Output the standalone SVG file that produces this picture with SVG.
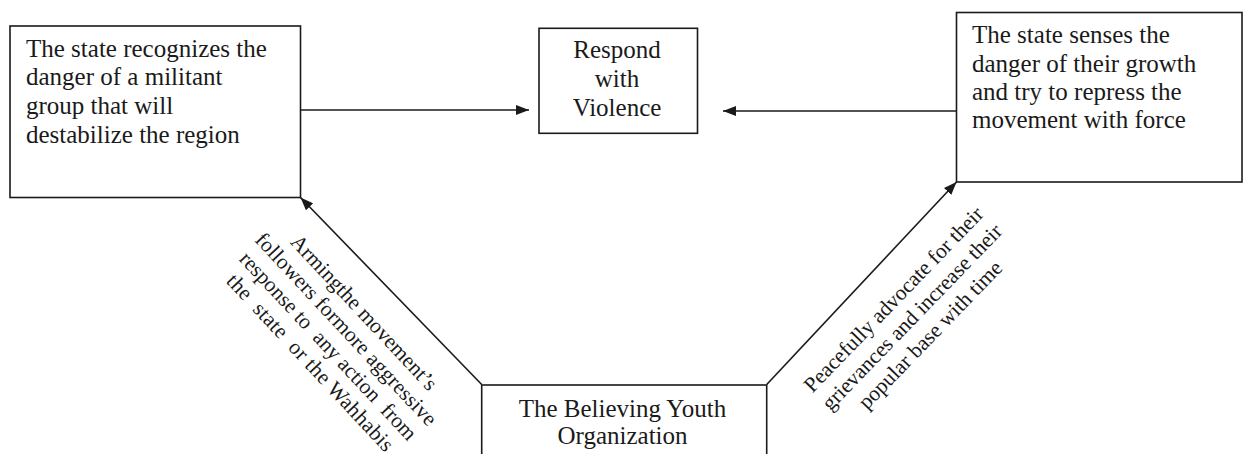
<svg xmlns="http://www.w3.org/2000/svg" width="1243" height="454" viewBox="0 0 1243 454">
<style>
.box{fill:#fff;stroke:#1a1a1a;stroke-width:1.6}
.t{font-family:"Liberation Serif","Times New Roman",serif;font-size:25px;fill:#1a1a1a}
.d{font-family:"Liberation Serif","Times New Roman",serif;font-size:21.5px;fill:#1a1a1a;text-anchor:middle}
.c{text-anchor:middle}
.ln{stroke:#1a1a1a;stroke-width:1.6;fill:none;marker-end:url(#ah)}
</style>
<defs>
<marker id="ah" markerUnits="userSpaceOnUse" markerWidth="14" markerHeight="10" refX="13" refY="5" orient="auto">
<path d="M0,0 L13,5 L0,10 z" fill="#1a1a1a"/>
</marker>
</defs>
<rect width="1243" height="454" fill="#fff"/>
<g id="connectors">
<line class="ln" x1="300.5" y1="110" x2="529" y2="110"/>
<line class="ln" x1="956.5" y1="111" x2="723" y2="111"/>
<line class="ln" x1="481.7" y1="384.5" x2="300.5" y2="197.5"/>
<line class="ln" x1="766.7" y1="384.5" x2="956.5" y2="182"/>
<text class="d" transform="translate(341,334) rotate(47)" xml:space="preserve"><tspan x="0" y="-24.5">Armingthe movement’s</tspan><tspan x="0" y="0" textLength="255" lengthAdjust="spacing">followers formore aggressive</tspan><tspan x="0" y="24.5" textLength="249" lengthAdjust="spacing">response to  any action  from</tspan><tspan x="0" y="49" textLength="234" lengthAdjust="spacing">the  state  or the Wahhabis</tspan></text>
<text class="d" transform="translate(917,322) rotate(-46)"><tspan x="0" y="-25.5">Peacefully advocate for their</tspan><tspan x="0" y="0">grievances and increase their</tspan><tspan x="0" y="25.5">popular base with time</tspan></text>
</g>
<g id="node-left">
<rect class="box" x="10" y="26" width="290.5" height="171.5"/>
<text class="t"><tspan x="26" y="56.5">The state recognizes the</tspan><tspan x="26" y="85.3">danger of a militant</tspan><tspan x="26" y="114.2">group that will</tspan><tspan x="26" y="143">destabilize the region</tspan></text>
</g>
<g id="node-middle">
<rect class="box" x="539" y="28.3" width="158.5" height="105"/>
<text class="t c"><tspan x="617" y="58.3">Respond</tspan><tspan x="617" y="87">with</tspan><tspan x="617" y="116">Violence</tspan></text>
</g>
<g id="node-right">
<rect class="box" x="956.5" y="12.5" width="285.5" height="169.5"/>
<text class="t"><tspan x="972" y="43.3">The state senses the</tspan><tspan x="972" y="71.7">danger of their growth</tspan><tspan x="972" y="100">and try to repress the</tspan><tspan x="972" y="128.3">movement with force</tspan></text>
</g>
<g id="node-bottom">
<rect class="box" x="481.7" y="385" width="285" height="90"/>
<text class="t c"><tspan x="622.5" y="416.7">The Believing Youth</tspan><tspan x="622.5" y="444">Organization</tspan></text>
</g>
</svg>
